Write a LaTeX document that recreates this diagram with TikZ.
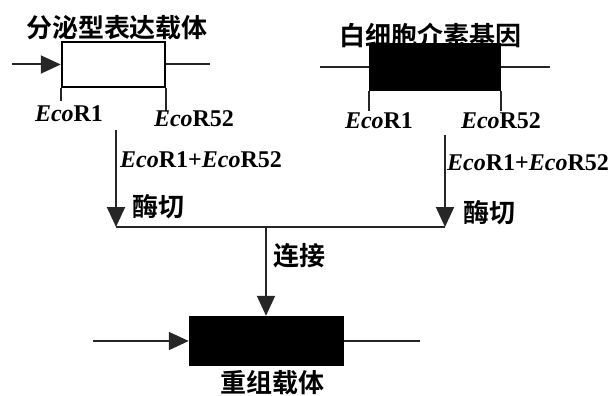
\documentclass[tikz,border=0pt]{standalone}
\usepackage{fontspec}
\setmainfont{Liberation Serif}
\newfontfamily\cjk{Noto Sans CJK SC}[BoldFont=* Bold]
\usetikzlibrary{arrows.meta}
\tikzset{
  ln/.style={line width=2pt, draw=black!85},
  arr/.style={ln, -{Triangle[length=20pt,width=18pt]}},
  vec/.style={rectangle, draw=black, line width=2.5pt, inner sep=0pt},
  lat/.style={font=\fontsize{24}{28}\selectfont\bfseries, inner sep=0pt},
  zh/.style={font=\fontsize{26}{30}\selectfont\cjk\bfseries, inner sep=0pt},
}
\newcommand{\eco}[1]{\textit{Eco}R#1}
\begin{document}
\begin{tikzpicture}[x=1pt,y=-1pt]
\useasboundingbox (0,0) rectangle (616,396);
% top-left vector
\node[vec, fill=white, minimum width=103pt, minimum height=45pt] (v1) at (113.5,64.5) {};
\coordinate (v1l) at (12,64.5);
\coordinate (v1r) at (210,64.5);
\draw[arr] (v1l) -- (v1.west);
\draw[ln] (v1.east) -- (v1r);
\draw[ln] (v1.south west) -- ++(0,13);
\draw[ln] (v1.south east) -- ++(0,23);
\node[zh] (t1) at (117,28) {分泌型表达载体};
\node[lat] (e1a) at (69,114) {\eco{1}};
\node[lat] (e1b) at (194,119) {\eco{52}};
% top-right gene
\node[vec, fill=black, minimum width=130pt, minimum height=46pt] (g) at (435,67) {};
\coordinate (gl) at (320,67);
\coordinate (gr) at (550,67);
\draw[ln] (gl) -- (g.west);
\draw[ln] (g.east) -- (gr);
\draw[ln] (g.south west) -- ++(0,20);
\draw[ln] (g.south east) -- ++(0,20);
\node[zh] (t2) at (430,35) {白细胞介素基因};
\node[lat] (e2a) at (379,121) {\eco{1}};
\node[lat] (e2b) at (501,121) {\eco{52}};
% digestion arrows
\coordinate (a1s) at (116,130);
\coordinate (a1e) at (116,227);
\coordinate (a2s) at (445,135);
\coordinate (a2e) at (445,227);
\draw[arr] (a1s) -- (a1e);
\draw[arr] (a2s) -- (a2e);
\draw[ln] (a1e) -- (a2e);
\node[lat, anchor=west] (l1) at (120,160) {\eco{1}+\eco{52}};
\node[lat, anchor=west] (l2) at (447,163) {\eco{1}+\eco{52}};
\node[zh, anchor=west] (m1) at (132,207) {酶切};
\node[zh, anchor=west] (m2) at (463,213) {酶切};
% ligation
\node[vec, fill=black, minimum width=153pt, minimum height=48pt] (r) at (266.5,341) {};
\coordinate (lj) at (266,227);
\draw[arr] (lj) -- (lj |- r.north);
\node[zh, anchor=west] (lk) at (273,256) {连接};
\coordinate (rl) at (93,341);
\coordinate (rr) at (420,341);
\draw[arr] (rl) -- (r.west);
\draw[ln] (r.east) -- (rr);
\node[zh] (t3) at (272,383) {重组载体};
\end{tikzpicture}
\end{document}
